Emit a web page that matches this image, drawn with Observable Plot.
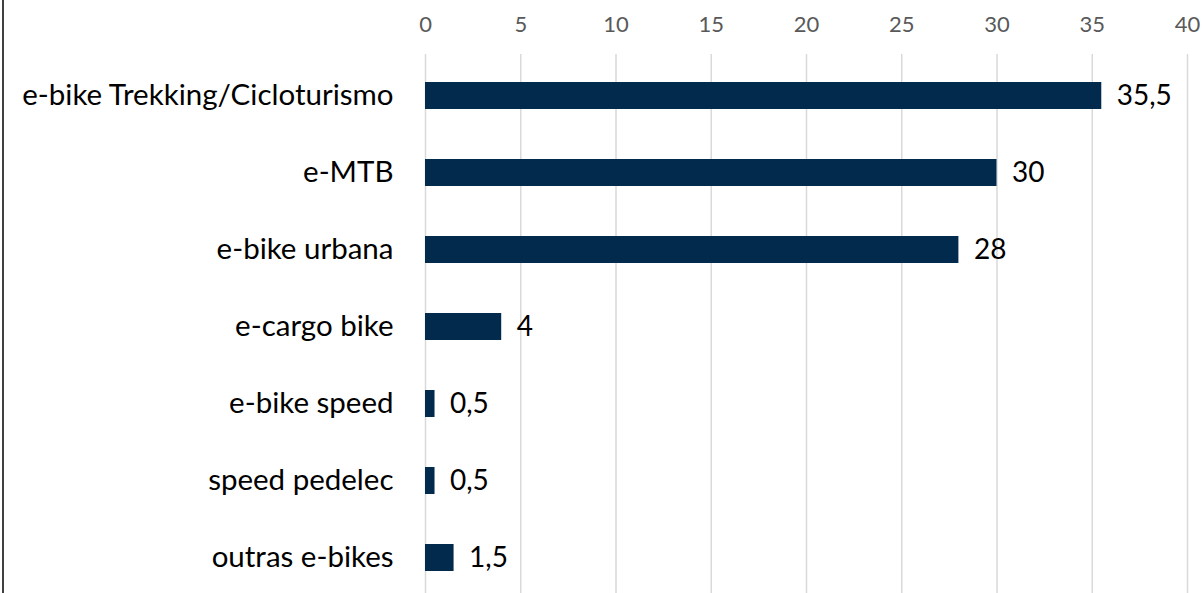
<!DOCTYPE html>
<html>
<head>
<meta charset="utf-8">
<script src="https://cdn.jsdelivr.net/npm/d3@7"></script>
<script src="https://cdn.jsdelivr.net/npm/@observablehq/plot@0.6"></script>
<style>
  html, body { margin: 0; padding: 0; background: #fff; overflow: hidden; }
  #wrap { position: relative; width: 1204px; height: 593px; overflow: hidden; }
  #border { position: absolute; left: 2px; top: 0; width: 2px; height: 593px; background: #404040; }
  svg { font-family: Lato, "Open Sans", sans-serif; }
</style>
</head>
<body>
<div id="wrap"><div id="border"></div></div>
<script>
const categories = ["e-bike Trekking/Cicloturismo", "e-MTB", "e-bike urbana", "e-cargo bike", "e-bike speed", "speed pedelec", "outras e-bikes"];
const values = [35.5, 30, 28, 4, 0.5, 0.5, 1.5];
const valueLabels = ["35,5", "30", "28", "4", "0,5", "0,5", "1,5"];
const xTicks = [0, 5, 10, 15, 20, 25, 30, 35, 40];

const data = categories.map((c, i) => ({category: c, value: values[i], label: valueLabels[i]}));

const chart = Plot.plot({
  width: 1204,
  height: 598,
  marginTop: 54,
  marginBottom: 0,
  marginLeft: 425,
  marginRight: 17,
  style: {background: "transparent", fontFamily: "Lato, 'Open Sans', sans-serif"},
  x: {domain: [0, 40]},
  y: {domain: categories, paddingInner: 0.65, paddingOuter: 0.325},
  marks: [
    Plot.gridX(xTicks, {stroke: "#d9d9d9", strokeOpacity: 1, strokeWidth: 1.5}),
    Plot.barX(data, {x: "value", y: "category", fill: "#022a4c"}),
    Plot.text(data, {x: "value", y: "category", text: "label", textAnchor: "start", dx: 15, fontSize: 28, fill: "#000"}),
    Plot.axisX(xTicks, {anchor: "top", tickSize: 0, tickPadding: 23, fontSize: 22, color: "#595959", label: null, tickFormat: d => String(d)}),
    Plot.axisY({tickSize: 0, tickPadding: 32, fontSize: 29.5, color: "#000", label: null})
  ]
});
document.getElementById("wrap").appendChild(chart);
</script>
</body>
</html>
